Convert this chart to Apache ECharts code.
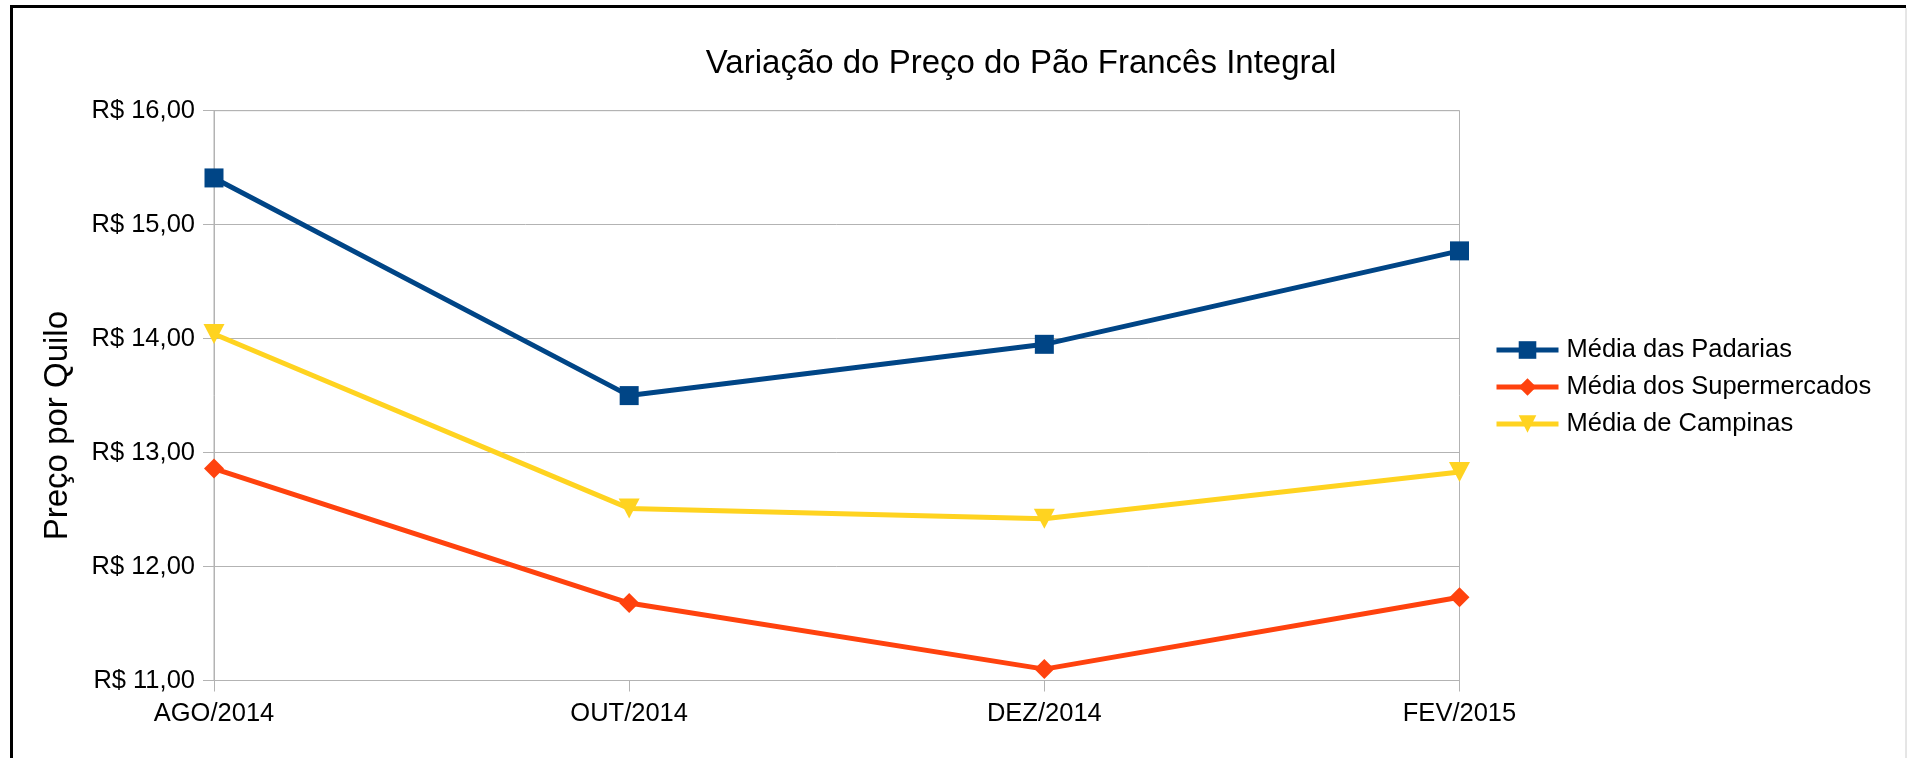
<!DOCTYPE html>
<html>
<head>
<meta charset="utf-8">
<script src="https://cdn.jsdelivr.net/npm/echarts@6/dist/echarts.min.js"></script>
<style>
html,body{margin:0;padding:0;background:#fff;}
#chart{width:1907px;height:758px;}
</style>
</head>
<body>
<div id="chart"></div>
<script>
const titleText = 'Variação do Preço do Pão Francês Integral';
const yAxisName = 'Preço por Quilo';
const categories = ['AGO/2014', 'OUT/2014', 'DEZ/2014', 'FEV/2015'];
const seriesNames = ['Média das Padarias', 'Média dos Supermercados', 'Média de Campinas'];
const padarias = [15.41, 13.50, 13.95, 14.77];
const supermercados = [12.86, 11.68, 11.10, 11.73];
const campinas = [14.04, 12.51, 12.42, 12.83];
const yTickValues = [11, 12, 13, 14, 15, 16];
const yTickLabels = ['R$ 11,00', 'R$ 12,00', 'R$ 13,00', 'R$ 14,00', 'R$ 15,00', 'R$ 16,00'];

const FONT = '"Liberation Sans", Arial, sans-serif';
const chart = echarts.init(document.getElementById('chart'), null, {renderer: 'canvas'});

const option = {
  backgroundColor: '#ffffff',
  animation: false,
  title: {
    text: titleText,
    left: 1016, top: 42, textAlign: 'center',
    textStyle: {fontFamily: FONT, fontSize: 33, fontWeight: 'normal', color: '#000'}
  },
  grid: {
    left: 214, right: 447.5, top: 110.7, bottom: 77.5,
    show: true, borderColor: '#b3b3b3', borderWidth: 1, backgroundColor: 'transparent'
  },
  legend: {
    orient: 'vertical',
    left: 1489, top: 331,
    itemWidth: 62, itemHeight: 22, itemGap: 9,
    data: seriesNames,
    lineStyle: {width: 5},
    textStyle: {fontFamily: FONT, fontSize: 25.5, color: '#000', lineHeight: 28, padding: [0, 0, 0, 3]}
  },
  xAxis: {
    type: 'category',
    data: categories,
    boundaryGap: false,
    axisLine: {show: true, lineStyle: {color: '#b3b3b3', width: 1}},
    axisTick: {show: true, length: 11, lineStyle: {color: '#b3b3b3'}},
    axisLabel: {fontFamily: FONT, fontSize: 25.5, color: '#000', margin: 20},
    splitLine: {show: false}
  },
  yAxis: {
    type: 'value',
    min: 11, max: 16, interval: 1,
    name: yAxisName,
    nameLocation: 'middle',
    nameGap: 140,
    nameTextStyle: {fontFamily: FONT, fontSize: 33, color: '#000', padding: [0, 60, 0, 0]},
    axisLine: {show: true, lineStyle: {color: '#b3b3b3', width: 1}},
    axisTick: {show: true, length: 11, lineStyle: {color: '#b3b3b3'}},
    axisLabel: {
      fontFamily: FONT, fontSize: 25.5, color: '#000', margin: 19,
      formatter: function (v) {
        const i = yTickValues.indexOf(Math.round(v));
        return i >= 0 ? yTickLabels[i] : '';
      }
    },
    splitLine: {show: true, lineStyle: {color: '#b3b3b3', width: 1}}
  },
  series: [
    {
      name: seriesNames[0], type: 'line', data: padarias,
      symbol: 'rect', symbolSize: 19,
      lineStyle: {color: '#004586', width: 5},
      itemStyle: {color: '#004586'}
    },
    {
      name: seriesNames[1], type: 'line', data: supermercados,
      symbol: 'diamond', symbolSize: 20,
      lineStyle: {color: '#ff420e', width: 5},
      itemStyle: {color: '#ff420e'}
    },
    {
      name: seriesNames[2], type: 'line', data: campinas,
      symbol: 'path://M0,0 L10,0 L5,10 Z', symbolSize: [21, 20],
      lineStyle: {color: '#ffd320', width: 5},
      itemStyle: {color: '#ffd320'}
    }
  ],
  graphic: [
    {type: 'line', shape: {x1: 10, y1: 6.5, x2: 1906, y2: 6.5}, style: {stroke: '#000', lineWidth: 3}, silent: true},
    {type: 'line', shape: {x1: 11.5, y1: 5, x2: 11.5, y2: 758}, style: {stroke: '#000', lineWidth: 3}, silent: true},
    {type: 'line', shape: {x1: 1906, y1: 8, x2: 1906, y2: 758}, style: {stroke: '#cccccc', lineWidth: 1}, silent: true}
  ]
};
chart.setOption(option);
</script>
</body>
</html>
